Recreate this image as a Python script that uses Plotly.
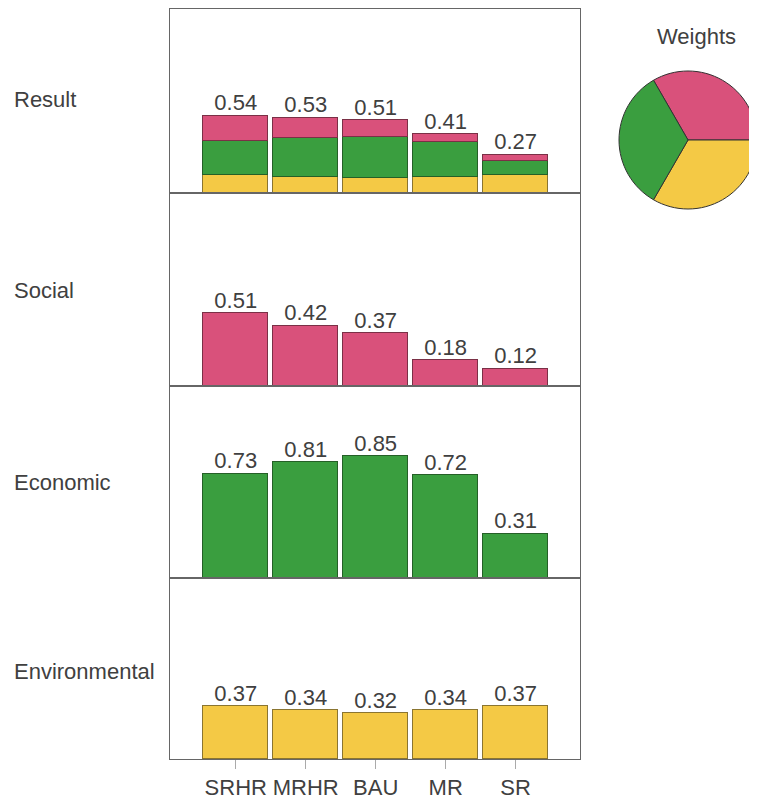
import plotly.graph_objects as go
from plotly.subplots import make_subplots

# Data
scenarios = ["SRHR", "MRHR", "BAU", "MR", "SR"]
social = [0.51, 0.42, 0.37, 0.18, 0.12]
economic = [0.73, 0.81, 0.85, 0.72, 0.31]
environmental = [0.37, 0.34, 0.32, 0.34, 0.37]
result = [0.54, 0.53, 0.51, 0.41, 0.27]
weight_names = ["Social", "Environmental", "Economic"]
weights = [1 / 3, 1 / 3, 1 / 3]
row_names = ["Result", "Social", "Economic", "Environmental"]

w_soc, w_env, w_eco = weights

RED = "#d9517b"
GREEN = "#3a9e3f"
YELLOW = "#f4c945"
RED_LINE = "#7a3046"
GREEN_LINE = "#255f27"
YELLOW_LINE = "#8a7531"
TXT = "#404040"
FONT = "Liberation Sans"

# page has an 8px body margin, so work in reference pixels minus 8
OFF = 8
W, H = 757 - OFF, 800 - OFF


def px(x):
    return (x - OFF) / W


def py(y):
    return 1 - (y - OFF) / H


rows_px = [(9, 193), (193, 386), (386, 578), (578, 759)]
label_y = [99, 291, 483, 671]
px_per_unit = 143.0

fig = make_subplots(rows=4, cols=1, shared_xaxes=True, vertical_spacing=0)

bw = 0.93
# Result (stacked weighted contributions)
for vals, w, col, lc in [
    (environmental, w_env, YELLOW, YELLOW_LINE),
    (economic, w_eco, GREEN, GREEN_LINE),
    (social, w_soc, RED, RED_LINE),
]:
    fig.add_trace(
        go.Bar(
            x=scenarios,
            y=[v * w for v in vals],
            width=bw,
            marker=dict(color=col, line=dict(color=lc, width=1.5)),
            showlegend=False,
            hoverinfo="skip",
        ),
        row=1,
        col=1,
    )
fig.add_trace(
    go.Scatter(
        x=scenarios,
        y=result,
        mode="text",
        text=[f"{v:.2f}" for v in result],
        textposition="top center",
        textfont=dict(family=FONT, size=22, color=TXT),
        showlegend=False,
    ),
    row=1,
    col=1,
)

for r, (vals, col, lc) in enumerate(
    [(social, RED, RED_LINE), (economic, GREEN, GREEN_LINE),
     (environmental, YELLOW, YELLOW_LINE)],
    start=2,
):
    fig.add_trace(
        go.Bar(
            x=scenarios,
            y=vals,
            width=bw,
            marker=dict(color=col, line=dict(color=lc, width=1.5)),
            showlegend=False,
            hoverinfo="skip",
        ),
        row=r,
        col=1,
    )
    fig.add_trace(
        go.Scatter(
            x=scenarios,
            y=vals,
            mode="text",
            text=[f"{v:.2f}" for v in vals],
            textposition="top center",
            textfont=dict(family=FONT, size=22, color=TXT),
            showlegend=False,
        ),
        row=r,
        col=1,
    )

fig.add_trace(
    go.Pie(
        labels=weight_names,
        values=weights,
        sort=False,
        direction="clockwise",
        rotation=-30,
        marker=dict(colors=[RED, YELLOW, GREEN], line=dict(color="#333333", width=1)),
        textinfo="none",
        showlegend=False,
        domain=dict(x=[px(619), 1.0], y=[py(213), py(67)]),
    )
)

fig.update_layout(barmode="stack")

for i, (top, bot) in enumerate(rows_px, start=1):
    fig.update_yaxes(
        domain=[py(bot), py(top)],
        range=[0, (bot - top) / px_per_unit],
        showticklabels=False,
        ticks="",
        showgrid=False,
        zeroline=False,
        showline=True,
        mirror=True,
        linecolor="#666666",
        linewidth=1,
        row=i,
        col=1,
    )
    fig.update_xaxes(
        domain=[px(170), px(580)],
        range=[-0.94, 4.92],
        showgrid=False,
        zeroline=False,
        showline=True,
        mirror=True,
        linecolor="#666666",
        linewidth=1,
        showticklabels=(i == 4),
        ticks="outside" if i == 4 else "",
        ticklen=9,
        tickcolor="#aaaaaa",
        tickfont=dict(family=FONT, size=22, color=TXT),
        row=i,
        col=1,
    )
    fig.add_annotation(
        text=row_names[i - 1],
        x=px(12),
        y=py(label_y[i - 1]),
        xref="paper",
        yref="paper",
        xanchor="left",
        yanchor="middle",
        showarrow=False,
        font=dict(family=FONT, size=22, color=TXT),
    )

fig.add_annotation(
    text="Weights",
    x=px(696),
    y=py(36),
    xref="paper",
    yref="paper",
    xanchor="center",
    yanchor="middle",
    showarrow=False,
    font=dict(family=FONT, size=22, color=TXT),
)

fig.update_layout(
    width=W,
    height=H,
    margin=dict(l=0, r=0, t=0, b=0),
    paper_bgcolor="white",
    plot_bgcolor="white",
    bargap=0,
)

fig.write_html("out.html")
